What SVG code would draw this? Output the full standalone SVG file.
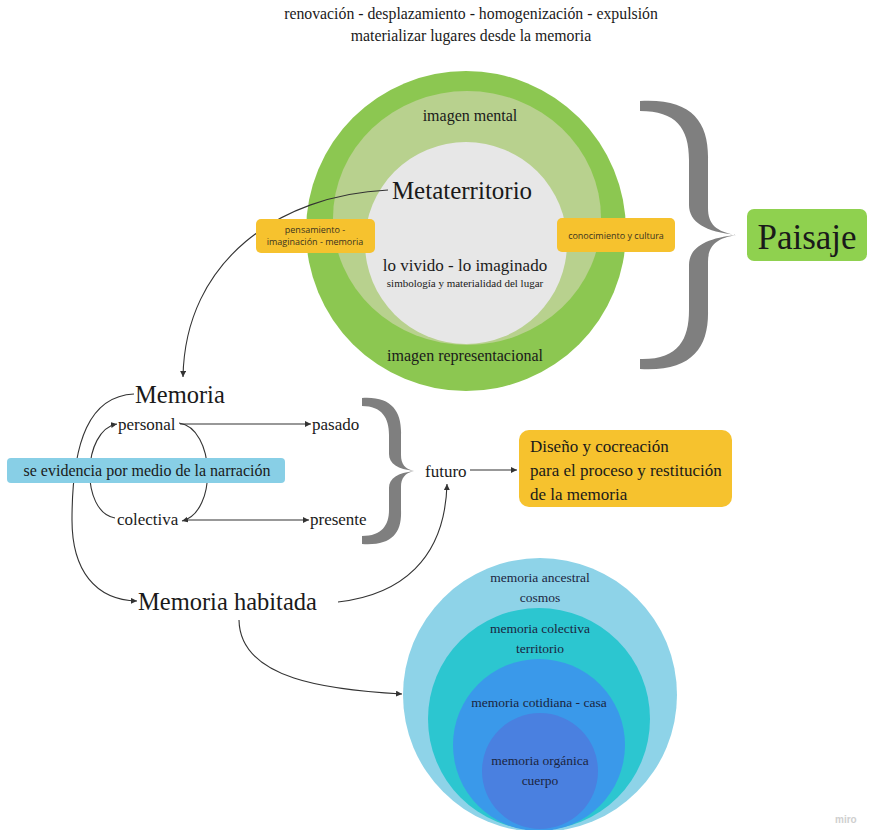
<svg xmlns="http://www.w3.org/2000/svg" width="870" height="830" viewBox="0 0 870 830">
<style>
.serif{font-family:"Liberation Serif","DejaVu Serif",serif;fill:#1a1a1a}
.sans{font-family:"Open Sans","Liberation Sans",sans-serif;fill:#3a3320}
.mid{text-anchor:middle}
.conn{fill:none;stroke:#333;stroke-width:1.1}
.brace{fill:#7f7f7f}
.circ{font-family:"Liberation Serif","DejaVu Serif",serif;fill:#1b2540;font-size:13.5px;text-anchor:middle}
</style>
<defs>
<marker id="ah" markerUnits="userSpaceOnUse" markerWidth="7" markerHeight="7" refX="6" refY="3" orient="auto">
<path d="M0,0 L6,3 L0,6 z" fill="#333"/>
</marker>
</defs>
<rect width="870" height="830" fill="#ffffff"/>

<g id="title">
<text class="serif mid" x="471" y="19" font-size="15.8">renovación - desplazamiento - homogenización - expulsión</text>
<text class="serif mid" x="471" y="41" font-size="15.8">materializar lugares desde la memoria</text>
</g>

<g id="metaterritorio">
<circle cx="466" cy="231" r="160" fill="#8cc751"/>
<ellipse cx="467" cy="218" rx="134" ry="127" fill="#b8d18e"/>
<circle cx="466" cy="243" r="101" fill="#e7e7e7"/>
<text class="serif mid" x="470" y="121" font-size="16">imagen mental</text>
<text class="serif mid" x="462" y="199" font-size="25">Metaterritorio</text>
<text class="serif mid" x="465" y="271" font-size="17">lo vivido - lo imaginado</text>
<text class="serif mid" x="465" y="287" font-size="11">simbología y materialidad del lugar</text>
<text class="serif mid" x="465" y="361" font-size="16">imagen representacional</text>
</g>

<g id="memoria-circulos">
<circle cx="540" cy="695" r="137" fill="#8ed3e8"/>
<circle cx="539" cy="719" r="111" fill="#2cc6d0"/>
<circle cx="539" cy="745" r="86" fill="#3a99ea"/>
<circle cx="540" cy="771" r="58" fill="#4a80e0"/>
<text class="circ" x="540" y="582">memoria ancestral</text>
<text class="circ" x="540" y="602">cosmos</text>
<text class="circ" x="540" y="633">memoria colectiva</text>
<text class="circ" x="540" y="653">territorio</text>
<text class="circ" x="539" y="707">memoria cotidiana - casa</text>
<text class="circ" x="540" y="765">memoria orgánica</text>
<text class="circ" x="540" y="785">cuerpo</text>
</g>

<g id="connectors">
<path class="conn" d="M388 190 C280 195 185 260 183 377" marker-end="url(#ah)"/>
<path class="conn" d="M134 394 C90 396 72 440 72 520 C72 570 95 600 137 601" marker-end="url(#ah)"/>
<path class="conn" d="M115 518 C80 512 82 430 117 424" marker-end="url(#ah)"/>
<path class="conn" d="M179 423 C215 428 218 512 182 521" marker-end="url(#ah)"/>
<path class="conn" d="M180 424 L311 424" marker-end="url(#ah)"/>
<path class="conn" d="M187 520 L309 520" marker-end="url(#ah)"/>
<path class="conn" d="M470 470 L517 470" marker-end="url(#ah)"/>
<path class="conn" d="M338 602 C400 595 445 560 447 484" marker-end="url(#ah)"/>
<path class="conn" d="M239 620 C240 680 330 690 402 694" marker-end="url(#ah)"/>
</g>

<g id="box-pensamiento">
<rect x="256" y="219" width="119" height="34" rx="5" fill="#f6c22e"/>
<text class="sans mid" x="315" y="233" font-size="9">pensamiento -</text>
<text class="sans mid" x="315" y="245" font-size="9">imaginación - memoria</text>
</g>

<g id="box-conocimiento">
<rect x="557" y="218" width="118" height="34" rx="5" fill="#f6c22e"/>
<text class="sans mid" x="616" y="239" font-size="9">conocimiento y cultura</text>
</g>

<g id="brace-paisaje">
<path class="brace" d="M640 101 C692 98 709 122 708 160 L708 208 C708 224 716 232 737 235 C716 238 708 246 708 262 L708 310 C709 348 692 372 640 369 L640 359 C678 360 689 340 689 310 L689 265 C689 248 705 238 737 235 C705 232 689 222 689 205 L689 160 C689 128 676 111 640 111 Z"/>
</g>

<g id="paisaje">
<rect x="747" y="209" width="120" height="52" rx="7" fill="#8fd14f"/>
<text class="serif mid" x="807" y="249" font-size="35">Paisaje</text>
</g>

<g id="memoria">
<text class="serif" x="135" y="403" font-size="24.5">Memoria</text>
</g>
<g id="personal"><text class="serif" x="118" y="430" font-size="17">personal</text></g>
<g id="pasado"><text class="serif" x="312" y="430" font-size="17">pasado</text></g>
<g id="colectiva"><text class="serif" x="117" y="525" font-size="17">colectiva</text></g>
<g id="presente"><text class="serif" x="310" y="525" font-size="17">presente</text></g>

<g id="narracion">
<rect x="7" y="458" width="278" height="25" rx="4" fill="#88cfe6"/>
<text class="serif mid" x="147" y="476" font-size="16">se evidencia por medio de la narración</text>
</g>

<g id="brace-tiempo">
<path class="brace" d="M362 398 C392 396 402 412 401 435 L401 455 C401 464 405 469 414 471 C405 473 401 478 401 487 L401 510 C402 533 392 546 362 544 L362 536 C382 536 389 525 389 510 L389 488 C389 478 398 473 414 471 C398 469 389 464 389 454 L389 435 C389 418 382 406 362 406 Z"/>
</g>

<g id="futuro"><text class="serif" x="425" y="477" font-size="17">futuro</text></g>

<g id="diseno">
<rect x="519" y="430" width="213" height="77" rx="10" fill="#f6c22e"/>
<text class="serif" x="530" y="452" font-size="17">Diseño y cocreación</text>
<text class="serif" x="530" y="476" font-size="17">para el proceso y restitución</text>
<text class="serif" x="530" y="500" font-size="17">de la memoria</text>
</g>

<g id="memoria-habitada">
<text class="serif" x="138" y="610" font-size="24.5">Memoria habitada</text>
</g>

<g id="watermark">
<text x="835" y="823" font-family="Liberation Sans, Arial, sans-serif" font-size="10" font-weight="bold" fill="#cfcfcf">miro</text>
</g>
</svg>
